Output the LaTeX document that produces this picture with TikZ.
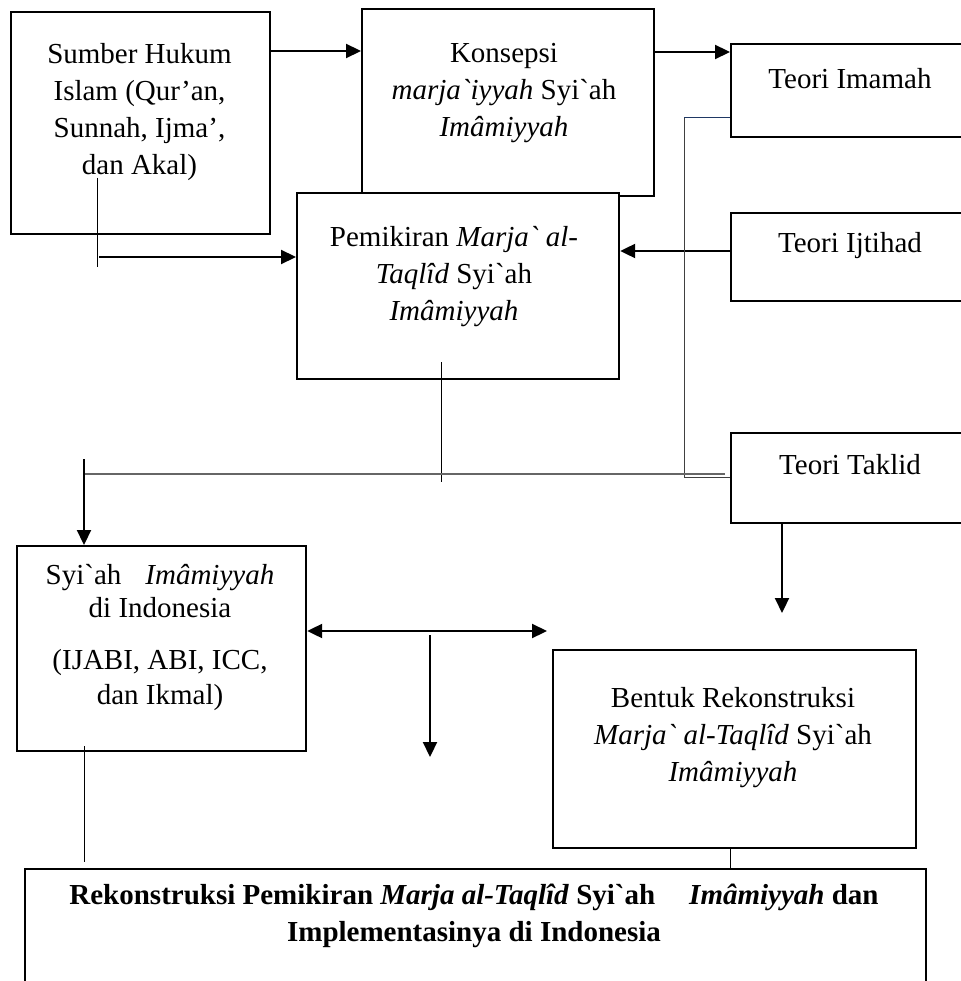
\documentclass[tikz,border=0pt]{standalone}
\usepackage{fontspec}
\setmainfont{Liberation Serif}[Ligatures=TeXOff]
\usetikzlibrary{arrows.meta}
\begin{document}
\begin{tikzpicture}[x=1pt,y=-1pt,
  box/.style={draw=black, line width=2.2pt, fill=white, rectangle, inner sep=0pt, anchor=north west},
  txt/.style={align=center, inner sep=0pt, font=\fontsize{29}{37}\selectfont},
  arr/.style={line width=2.2pt, -{Triangle[length=15pt,width=14pt]}},
  arrb/.style={line width=2.2pt, {Triangle[length=15pt,width=14pt]}-{Triangle[length=15pt,width=14pt]}},
  thinline/.style={line width=1pt, black},
  greyline/.style={line width=1.3pt, black!60},
  blueline/.style={line width=1pt, color={rgb,255:red,31;green,56;blue,100}},
  darkline/.style={line width=1pt, black!75}]
\useasboundingbox (0,0) rectangle (960,981);
% boxes
\node[box, minimum width=259pt, minimum height=222pt] (sumber) at (10,11) {};
\node[box, minimum width=292pt, minimum height=187pt] (konsepsi) at (361,8) {};
\node[box, minimum width=322pt, minimum height=186pt] (pemikiran) at (296,192) {};
\node[box, minimum width=300pt, minimum height=93pt] (imamah) at (730,43) {};
\node[box, minimum width=300pt, minimum height=88pt] (ijtihad) at (730,212) {};
\node[box, minimum width=300pt, minimum height=90pt] (taklid) at (730,432) {};
\node[box, minimum width=289pt, minimum height=205pt] (syiah) at (16,545) {};
\node[box, minimum width=363pt, minimum height=198pt] (bentuk) at (552,649) {};
\node[box, minimum width=901pt, minimum height=150pt] (akhir) at (24,868) {};
% texts
\node[txt] (sumbert) at (139.5,112) {Sumber Hukum\\Islam (Qur’an,\\Sunnah, Ijma’,\\dan Akal)};
\node[txt] (konsepsit) at (504,93) {Konsepsi\\\textit{marja`iyyah} Syi`ah\\\textit{Imâmiyyah}};
\node[txt] (pemikirant) at (454,277) {Pemikiran \textit{Marja` al-}\\\textit{Taqlîd} Syi`ah\\\textit{Imâmiyyah}};
\node[txt] (imamaht) at (850,79) {Teori Imamah};
\node[txt] (ijtihadt) at (850,246) {Teori Ijtihad};
\node[txt] (taklidt) at (850,465) {Teori Taklid};
\node[txt] (syiaht) at (160,637) {Syi`ah\hspace{24pt}\textit{Imâmiyyah}\\[-4pt]di Indonesia\\[15pt](IJABI, ABI, ICC,\\[-2pt]dan Ikmal)};
\node[txt] (bentukt) at (733,738) {Bentuk Rekonstruksi\\\textit{Marja` al-Taqlîd} Syi`ah\\\textit{Imâmiyyah}};
\node[txt, font=\fontsize{29}{37}\selectfont\bfseries] (akhirt) at (474,916) {Rekonstruksi Pemikiran \textit{Marja al-Taqlîd} Syi`ah\hspace{34pt}\textit{Imâmiyyah} dan\\Implementasinya di Indonesia};
% free-end coordinates
\coordinate (s1) at (97,178);
\coordinate (s2) at (97,267);
\coordinate (s3) at (99,257);
\coordinate (b1) at (684,118);
\coordinate (b2) at (684,477);
\coordinate (p1) at (441,362);
\coordinate (p2) at (441,482);
\coordinate (g1) at (84,474);
\coordinate (g2) at (725,474);
\coordinate (d1) at (84,459);
\coordinate (t1) at (782,613);
\coordinate (h1) at (547,631);
\coordinate (v1) at (430,635);
\coordinate (v2) at (430,757);
\coordinate (y1) at (84,746);
\coordinate (y2) at (84,862);
% connectors
\draw[arr] (sumber.east |- 0,51) -- (konsepsi.west |- 0,51);
\draw[arr] (konsepsi.east |- 0,52) -- (imamah.west |- 0,52);
\draw[thinline] (s1) -- (s2);
\draw[arr] (s3) -- (pemikiran.west |- s3);
\draw[arr] (ijtihad.west |- 0,251) -- (pemikiran.east |- 0,251);
\draw[blueline] (imamah.west |- b1) -- (b1);
\draw[darkline] (b1) -- (b2) -- (taklid.west |- b2);
\draw[thinline] (p1) -- (p2);
\draw[greyline] (g1) -- (g2);
\draw[arr] (d1) -- (d1 |- syiah.north);
\draw[arr] (t1 |- taklid.south) -- (t1);
\draw[arrb] (syiah.east |- h1) -- (h1);
\draw[arr] (v1) -- (v2);
\draw[thinline] (y1) -- (y2);
\draw[thinline] (730,0 |- bentuk.south) -- (730,0 |- akhir.north);
\end{tikzpicture}
\end{document}
